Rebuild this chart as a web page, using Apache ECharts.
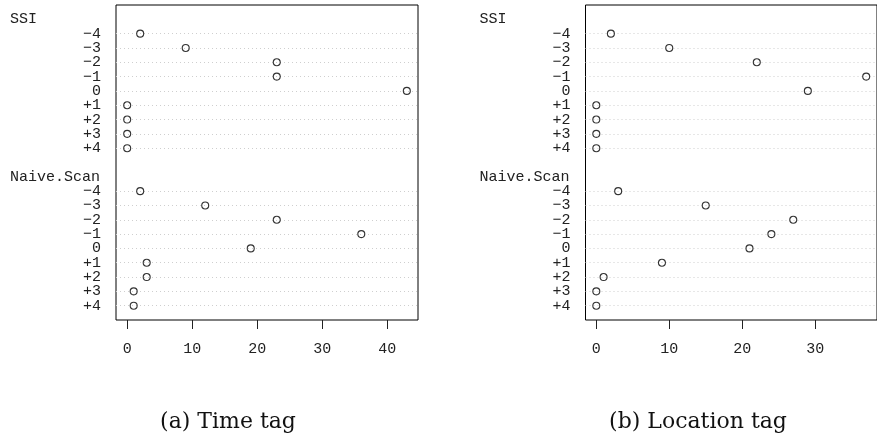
<!DOCTYPE html>
<html>
<head>
<meta charset="utf-8">
<title>dotchart</title>
<script src="https://cdn.jsdelivr.net/npm/echarts@6/dist/echarts.min.js"></script>
<style>
    html, body { margin: 0; padding: 0; background: #fff; }
    #myChart { width: 877px; height: 434px; }
</style>
</head>
<body>
<div id="myChart"></div>
<script>
// 数据
const groups = ['SSI', 'Naive.Scan'];
const items = ['−4', '−3', '−2', '−1', '0', '+1', '+2', '+3', '+4'];

// (a) Time tag
const timeSSI = [2, 9, 23, 23, 43, 0, 0, 0, 0];
const timeNaive = [2, 12, 23, 36, 19, 3, 3, 1, 1];
// (b) Location tag
const locSSI = [2, 10, 22, 37, 29, 0, 0, 0, 0];
const locNaive = [3, 15, 27, 24, 21, 9, 1, 0, 0];

const timeTicks = [0, 10, 20, 30, 40];
const locTicks = [0, 10, 20, 30];
const captions = ['(a) Time tag', '(b) Location tag'];

const monoFont = 'Liberation Mono';
const nItems = items.length;

// 行号：和 R 的 dotchart 一样，从下往上排
function groupBase(g) {
    return (groups.length - 1 - g) * (nItems + 2);
}
function itemRow(g, i) {
    return groupBase(g) + nItems - 1 - i;
}

// 行号 -> 文字
const rowLabels = {};
groups.forEach(function (name, g) {
    rowLabels[groupBase(g) + nItems] = '{g|' + name + '}';
    items.forEach(function (it, i) {
        rowLabels[itemRow(g, i)] = it;
    });
});
const topRow = groupBase(0) + nItems;

// 点线只画在数据行上
const rowLines = [];
groups.forEach(function (name, g) {
    items.forEach(function (it, i) {
        rowLines.push({ yAxis: itemRow(g, i) });
    });
});

function toPoints(values, g) {
    return values.map(function (v, i) {
        return [v, itemRow(g, i)];
    });
}

// R 默认左右各留 4%
function padRange(list) {
    const all = [].concat.apply([], list);
    const lo = Math.min.apply(null, all);
    const hi = Math.max.apply(null, all);
    const pad = (hi - lo) * 0.04;
    return [lo - pad, hi + pad];
}
const timeRange = padRange([timeSSI, timeNaive]);
const locRange = padRange([locSSI, locNaive]);

function makeX(idx, range, ticks) {
    return {
        type: 'value',
        gridIndex: idx,
        min: range[0],
        max: range[1],
        axisLine: { show: false, onZero: false },
        splitLine: { show: false },
        axisTick: {
            show: true,
            length: 9,
            customValues: ticks,
            lineStyle: { color: '#222' }
        },
        axisLabel: {
            customValues: ticks,
            margin: 22,
            color: '#222',
            fontFamily: monoFont,
            fontSize: 15
        }
    };
}

function makeY(idx) {
    return {
        type: 'value',
        gridIndex: idx,
        min: -1,
        max: topRow + 1,
        interval: 1,
        axisLine: { show: false, onZero: false },
        axisTick: { show: false },
        splitLine: { show: false },
        axisLabel: {
            margin: 15,
            color: '#222',
            fontFamily: monoFont,
            fontSize: 15,
            showMinLabel: false,
            showMaxLabel: false,
            formatter: function (v) {
                return rowLabels[v] || '';
            },
            rich: {
                g: { width: 91, align: 'left', fontFamily: monoFont, fontSize: 15, color: '#222' }
            }
        }
    };
}

const dotStyle = {
    type: 'scatter',
    symbol: 'circle',
    symbolSize: 7,
    itemStyle: { color: 'rgba(0,0,0,0)', borderColor: '#000', borderWidth: 1.1 },
    z: 5
};

function makeSeries(idx, values, g, withLines) {
    const s = Object.assign({}, dotStyle, {
        xAxisIndex: idx,
        yAxisIndex: idx,
        data: toPoints(values, g)
    });
    if (withLines) {
        s.markLine = {
            silent: true,
            symbol: 'none',
            label: { show: false },
            lineStyle: { color: '#cfcfcf', width: 1, type: [1, 3] },
            data: rowLines
        };
    }
    return s;
}

var myChart = echarts.init(document.getElementById('myChart'));
var option = {
    backgroundColor: '#fff',
    animation: false,
    title: [
        {
            text: captions[0], left: 223, top: 406, textAlign: 'center',
            textStyle: { fontFamily: 'DejaVu Serif', fontSize: 22, fontWeight: 'normal', color: '#111' }
        },
        {
            text: captions[1], left: 693, top: 406, textAlign: 'center',
            textStyle: { fontFamily: 'DejaVu Serif', fontSize: 22, fontWeight: 'normal', color: '#111' }
        }
    ],
    grid: [
        { left: 116, top: 5, width: 302, height: 315, show: true, borderColor: '#000', borderWidth: 1 },
        { left: 585.5, top: 5, width: 301, height: 315, show: true, borderColor: '#000', borderWidth: 1 }
    ],
    xAxis: [makeX(0, timeRange, timeTicks), makeX(1, locRange, locTicks)],
    yAxis: [makeY(0), makeY(1)],
    series: [
        makeSeries(0, timeSSI, 0, true),
        makeSeries(0, timeNaive, 1, false),
        makeSeries(1, locSSI, 0, true),
        makeSeries(1, locNaive, 1, false)
    ]
};
myChart.setOption(option);
</script>
</body>
</html>
